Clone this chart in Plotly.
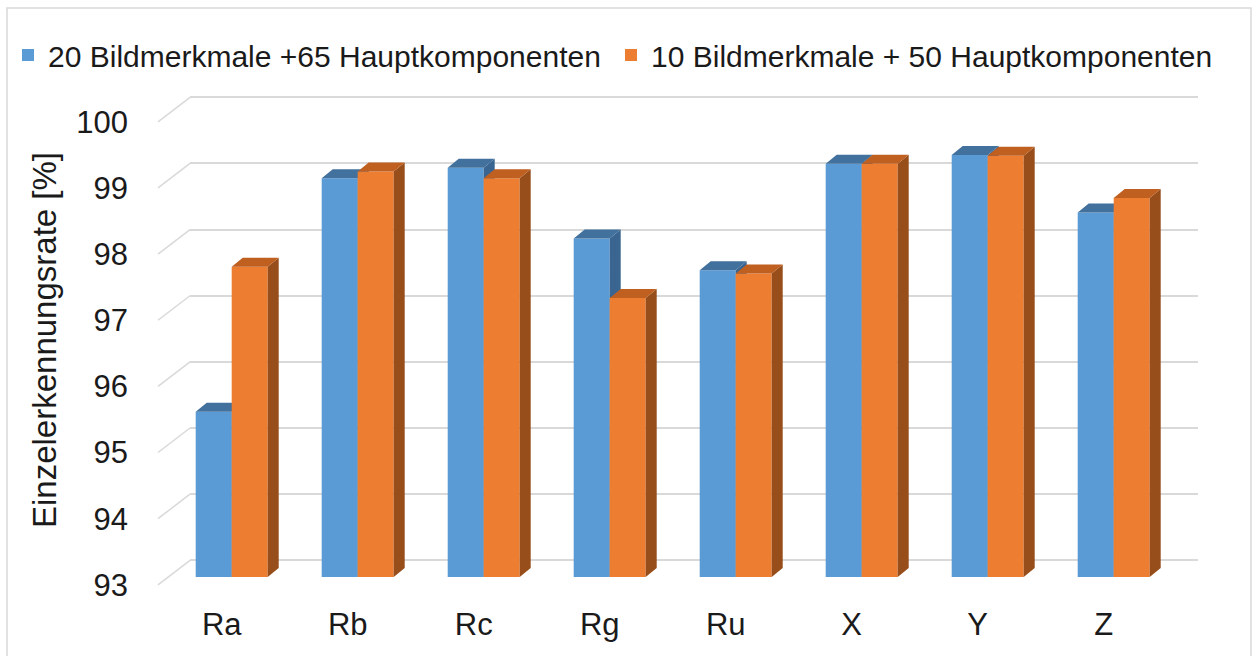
import plotly.graph_objects as go

# ---------------- data ----------------
categories = ["Ra", "Rb", "Rc", "Rg", "Ru", "X", "Y", "Z"]
series_names = ["20 Bildmerkmale +65 Hauptkomponenten", "10 Bildmerkmale + 50 Hauptkomponenten"]
blue_values = [95.50, 99.03, 99.19, 98.12, 97.64, 99.25, 99.38, 98.51]
orange_values = [97.69, 99.13, 99.03, 97.22, 97.59, 99.25, 99.37, 98.73]
y_ticks = [93, 94, 95, 96, 97, 98, 99, 100]
y_title = "Einzelerkennungsrate [%]"

# ---------------- style / geometry ----------------
W_PX, H_PX = 1255, 656
PL, PR, PT, PB = 190, 1198, 80, 600          # plot area in pixels
CAT_STEP_PX = 126.0                          # pixels per category
FIRST_CENTER_PX = 231.7                      # pixel of first group centre
UNIT_PX = 66.14                              # pixels per 1 %
BASE = 93.0
BACK_BASE_PX = 560.3                         # back wall y of BASE
WALL_DY, WALL_DX = 24.5, 32.0                # wall depth (front-back) in px
BAR_DX, BAR_DY = 11.0, 9.0                   # bar depth in px
BAR_W_PX = 36.0
FRONT_OFF = (WALL_DY - BAR_DY) / 2 + BAR_DY  # bar front plane below back wall (px)
LABEL_SHIFT_PX = 10.0

C_BLUE, C_BLUE_TOP, C_BLUE_SIDE = "#5b9bd5", "#41719c", "#3a6590"
C_OR, C_OR_TOP, C_OR_SIDE = "#ed7d31", "#bf5f20", "#974e1b"
GRID = "#d9d9d9"
FONT = "Liberation Sans, Arial, sans-serif"
TXT = "#1a1a1a"

# axis ranges derived from pixel geometry
x0 = (PL - FIRST_CENTER_PX) / CAT_STEP_PX
x1 = (PR - FIRST_CENTER_PX) / CAT_STEP_PX
lab_shift = LABEL_SHIFT_PX / CAT_STEP_PX

def yrange(base_px):
    return [BASE - (PB - base_px) / UNIT_PX, BASE + (base_px - PT) / UNIT_PX]

front_base_px = BACK_BASE_PX + FRONT_OFF
label_base_px = BACK_BASE_PX + WALL_DY
r_front = yrange(front_base_px)
r_back = yrange(BACK_BASE_PX)
r_label = yrange(label_base_px)

bw = BAR_W_PX / CAT_STEP_PX
ddx = BAR_DX / CAT_STEP_PX
ddy = BAR_DY / UNIT_PX
idx = list(range(len(categories)))

def faces(values, left_off):
    sx, sy, tx, ty = [], [], [], []
    for i, v in zip(idx, values):
        xl = i + left_off
        xr = xl + bw
        sx += [xr, xr + ddx, xr + ddx, xr, xr, None]
        sy += [BASE, BASE + ddy, v + ddy, v, BASE, None]
        tx += [xl, xl + ddx, xr + ddx, xr, xl, None]
        ty += [v, v + ddy, v + ddy, v, v, None]
    return sx, sy, tx, ty

fig = go.Figure()

for vals, off, cf, ct, cs, name, yax, leg in [
    (blue_values, -bw, C_BLUE, C_BLUE_TOP, C_BLUE_SIDE, series_names[0], "y", "legend"),
    (orange_values, 0.0, C_OR, C_OR_TOP, C_OR_SIDE, series_names[1], "y2", "legend2"),
]:
    fig.add_trace(go.Bar(
        x=idx, y=[v - BASE for v in vals], base=BASE, offset=off, width=bw,
        marker=dict(color=cf, line=dict(width=0)), name=name, legend=leg,
        xaxis="x", yaxis=yax, hoverinfo="skip"))
    sx, sy, tx, ty = faces(vals, off)
    fig.add_trace(go.Scatter(x=sx, y=sy, fill="toself", fillcolor=cs, mode="none",
                             showlegend=False, xaxis="x", yaxis=yax, hoverinfo="skip"))
    fig.add_trace(go.Scatter(x=tx, y=ty, fill="toself", fillcolor=ct, mode="none",
                             showlegend=False, xaxis="x", yaxis=yax, hoverinfo="skip"))

# invisible helper traces so label / grid axes are drawn
fig.add_trace(go.Scatter(x=[idx[0]], y=[BASE], mode="none", showlegend=False,
                         xaxis="x2", yaxis="y3", hoverinfo="skip"))
fig.add_trace(go.Scatter(x=[idx[0]], y=[BASE], mode="none", showlegend=False,
                         xaxis="x", yaxis="y4", hoverinfo="skip"))

# left wall diagonals
pw = PR - PL
for t in y_ticks:
    fig.add_shape(type="line", xref="paper", yref="y4", x0=0, x1=-WALL_DX / pw,
                  y0=t, y1=t - WALL_DY / UNIT_PX, line=dict(color=GRID, width=1.5), layer="below")

# chart border
ph = PB - PT
fig.add_shape(type="rect", xref="paper", yref="paper",
              x0=(7 - PL) / pw, x1=(1251 - PL) / pw,
              y0=(PB - 662) / ph, y1=(PB - 8) / ph,
              line=dict(color="#d9d9d9", width=1.5), fillcolor="rgba(0,0,0,0)", layer="below")

legend_common = dict(orientation="h", xref="container", yref="container",
                     y=1 - 55 / H_PX, xanchor="left", yanchor="middle",
                     bgcolor="rgba(0,0,0,0)",
                     font=dict(size=30, family=FONT, color=TXT),
                     itemclick=False, itemdoubleclick=False)

fig.update_layout(
    width=W_PX, height=H_PX,
    margin=dict(l=PL, r=W_PX - PR, t=PT, b=H_PX - PB, pad=0, autoexpand=False),
    paper_bgcolor="white", plot_bgcolor="rgba(0,0,0,0)",
    font=dict(family=FONT, color=TXT),
    barmode="overlay",
    showlegend=True,
    legend=dict(x=8 / W_PX, **legend_common),
    legend2=dict(x=611 / W_PX, **legend_common),
    xaxis=dict(range=[x0, x1], showgrid=False, zeroline=False, showticklabels=False,
               showline=False, ticks=""),
    xaxis2=dict(range=[x0 + lab_shift, x1 + lab_shift], overlaying="x", side="bottom",
                tickvals=idx, ticktext=categories, showgrid=False, zeroline=False,
                showline=False, ticks="", tickfont=dict(size=31, family=FONT, color=TXT),
                ticklabelstandoff=3),
    yaxis=dict(range=r_front, showgrid=False, zeroline=False, showticklabels=False, showline=False),
    yaxis2=dict(range=r_front, overlaying="y", showgrid=False, zeroline=False,
                showticklabels=False, showline=False),
    yaxis3=dict(range=r_label, overlaying="y", side="left", tickvals=y_ticks,
                ticktext=[str(t) for t in y_ticks], showgrid=False, zeroline=False,
                showline=False, ticks="", tickfont=dict(size=31, family=FONT, color=TXT),
                ticklabelstandoff=61,
                title=dict(text=y_title, font=dict(size=33, family=FONT, color=TXT), standoff=9)),
    yaxis4=dict(range=r_back, overlaying="y", showgrid=True, gridcolor=GRID, gridwidth=1.5,
                tickvals=y_ticks, showticklabels=False, zeroline=False, showline=False, ticks=""),
)

fig.write_html("out.html", config={"displayModeBar": False},
               post_script="document.body.style.margin='0';document.body.style.overflow='hidden';")
